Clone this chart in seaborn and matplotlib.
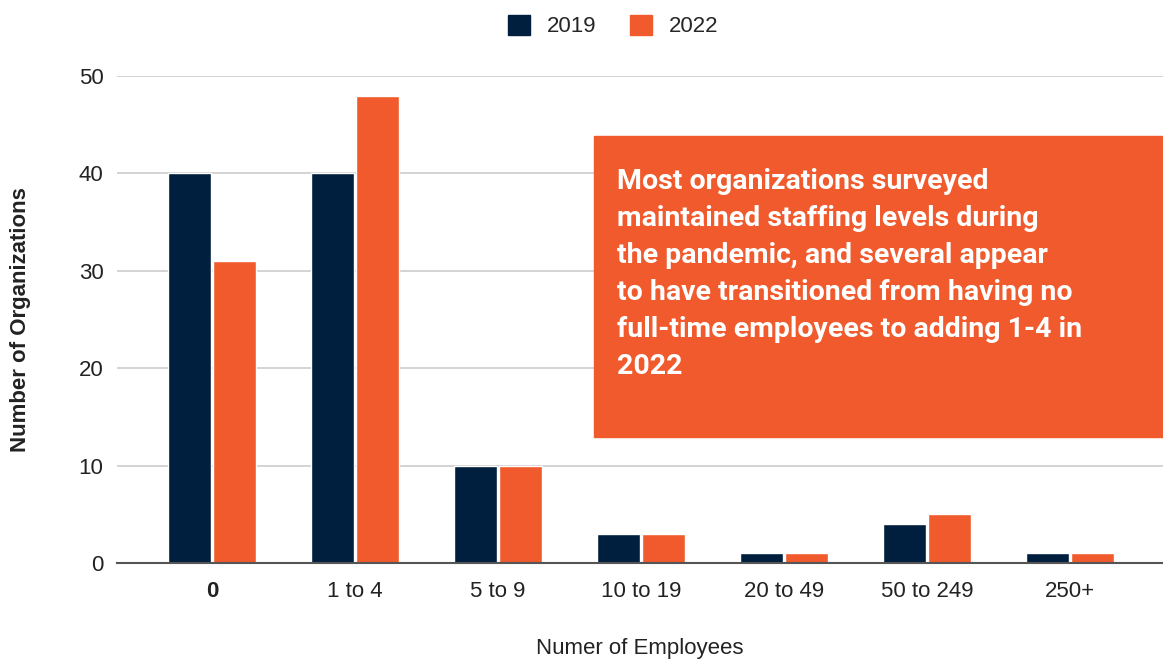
import matplotlib
matplotlib.use("Agg")
import matplotlib.pyplot as plt
import matplotlib.patches as mpatches
import seaborn as sns
import pandas as pd

categories = ["0", "1 to 4", "5 to 9", "10 to 19", "20 to 49", "50 to 249", "250+"]
years = ["2019", "2022"]
orgs_2019 = [40, 40, 10, 3, 1, 4, 1]
orgs_2022 = [31, 48, 10, 3, 1, 5, 1]
y_ticks = [0, 10, 20, 30, 40, 50]

navy = "#001f3f"
orange = "#f05a2c"

df = pd.DataFrame({
    "employees": categories * 2,
    "year": [years[0]] * len(categories) + [years[1]] * len(categories),
    "orgs": orgs_2019 + orgs_2022,
})

sns.set_style("white")
plt.rcParams["font.family"] = ["Liberation Sans", "DejaVu Sans"]

fig = plt.figure(figsize=(11.63, 6.61), dpi=100)
ax = fig.add_axes([0.101, 0.148, 0.899, 0.737])

sns.barplot(data=df, x="employees", y="orgs", hue="year", order=categories,
            hue_order=years, palette=[navy, orange], saturation=1,
            width=0.63, gap=0.05, ax=ax, legend=False)

ax.set_ylim(0, 50)
ax.set_xlim(-0.66, 6.65)
ax.set_yticks(y_ticks)
ax.yaxis.grid(True, color="#cccccc", linewidth=1.2)
ax.set_axisbelow(True)
for s in ["top", "right", "left"]:
    ax.spines[s].set_visible(False)
ax.spines["bottom"].set_color("#555555")
ax.spines["bottom"].set_linewidth(1.5)
ax.tick_params(axis="both", length=0, labelsize=16, colors="#222222")
ax.tick_params(axis="y", pad=10)
ax.tick_params(axis="x", pad=13)
ax.get_xticklabels()[0].set_fontweight("bold")

ax.set_ylabel("Number of Organizations", fontsize=16, fontweight="bold",
              color="#222222", va="center")
ax.yaxis.set_label_coords(-0.093, 0.5)
ax.set_xlabel("Numer of Employees", fontsize=16, color="#222222", va="center")
ax.xaxis.set_label_coords(0.5, -0.176)

handles = [mpatches.Patch(color=c) for c in [navy, orange]]
fig.legend(handles, years, loc="center", bbox_to_anchor=(0.527, 1 - 26 / 661),
           ncol=2, frameon=False, fontsize=16, handlelength=1.0,
           handleheight=1.0, columnspacing=1.5, handletextpad=0.75)

# annotation box
box = mpatches.Rectangle((594 / 1163, 1 - 437 / 661), 569 / 1163, 301 / 661,
                         transform=fig.transFigure, color=orange, zorder=5)
fig.patches.append(box)
note = ("Most organizations surveyed\n"
        "maintained staffing levels during\n"
        "the pandemic, and several appear\n"
        "to have transitioned from having no\n"
        "full-time employees to adding 1-4 in\n"
        "2022")
fig.text(617 / 1163, 1 - 168 / 661, note, ha="left", va="top", color="white",
         fontsize=20.5, fontweight="bold", family=["Roboto", "DejaVu Sans"],
         linespacing=1.48, zorder=6)

fig.savefig("out.png", dpi=100)
